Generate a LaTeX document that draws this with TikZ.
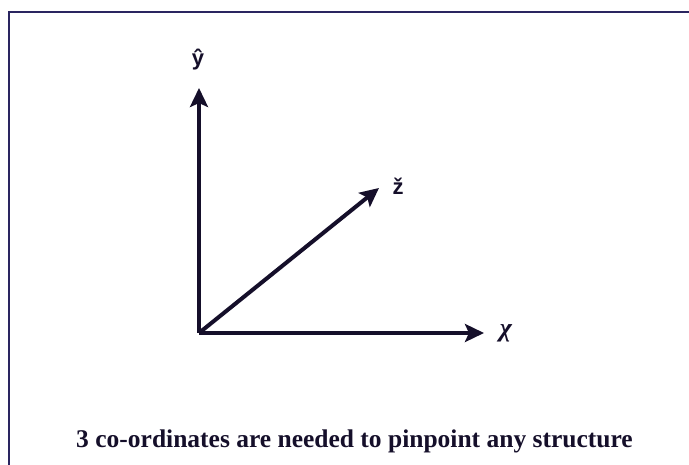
\documentclass[tikz,border=0pt]{standalone}
\usepackage{fontspec}
\setmainfont{Liberation Serif}
\newfontfamily\lblfont{Liberation Sans}
\usetikzlibrary{arrows.meta}
\definecolor{ink}{HTML}{150F2A}
\definecolor{framec}{HTML}{2A2560}
\begin{document}
\begin{tikzpicture}[x=1pt,y=-1pt,
  axis/.style={draw=ink,line width=4pt,-{Stealth[length=19pt,width=18pt,inset=4pt]}},
  lbl/.style={text=ink,font=\lblfont\bfseries\fontsize{22}{24}\selectfont,inner sep=0pt}]
\useasboundingbox (0,0) rectangle (689,465);
\fill[white] (0,0) rectangle (689,465);
\draw[framec,line width=2.5pt] (9,465) -- (9,12) -- (689,12);
\coordinate (o) at (199,333);
\coordinate (ty) at (199,88);
\coordinate (tx) at (484,333);
\coordinate (tz) at (379,188);
\draw[axis] (o) -- (ty);
\draw[axis] (o) -- (tx);
\draw[axis] (o) -- (tz);
\node[lbl] (ly) at (198,60) {ŷ};
\node[lbl] (lz) at (398,186) {ž};
\node[text=ink,font=\rmfamily\bfseries\itshape\fontsize{26}{28}\selectfont,inner sep=0pt] (lx) at (506,333) {χ};
\node[text=ink,font=\bfseries\fontsize{25.5}{28}\selectfont,inner sep=0pt] (cap) at (354.5,441) {3 co-ordinates are needed to pinpoint any structure};
\end{tikzpicture}
\end{document}
